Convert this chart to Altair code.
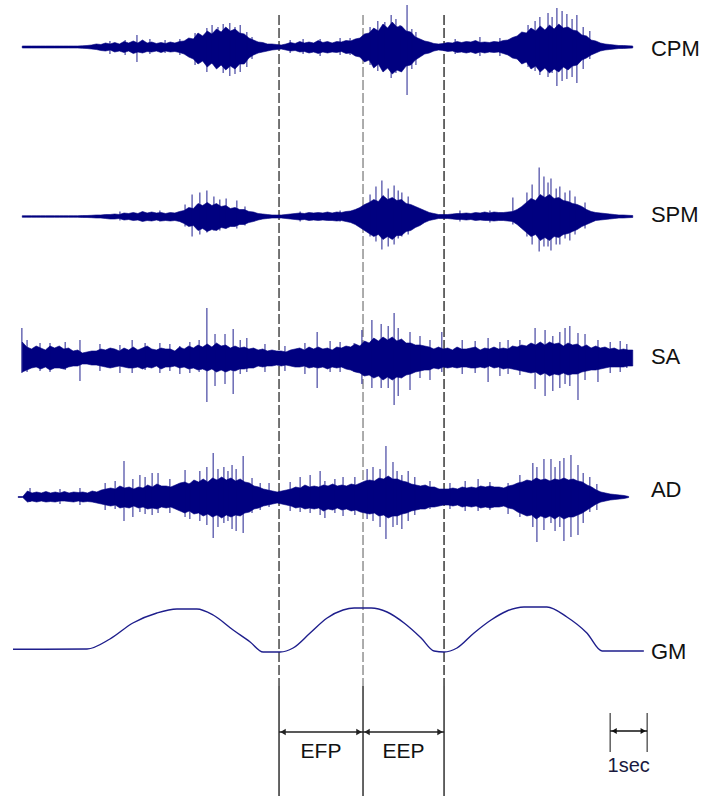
import altair as alt
import pandas as pd

NAVY = "#000080"
FONT = "Liberation Sans"

# ---------------- data ----------------
# dense-band envelope of each EMG trace (px above / below its baseline),
# sampled every 0.125 s; one row of values per second
STEP = 0.125
EMG_START = {"CPM": 0.25, "SPM": 0.25, "SA": 0.25, "AD": 0.14}
OFFSET = {"CPM": -47, "SPM": -216.5, "SA": -358, "AD": -497, "GM": -650}

CPM_UP = [1, 1, 1, 1, 1, 1, 1, 1,
          1, 1, 1, 1, 1, 1.2, 1.5, 2,
          3, 2.5, 4, 3, 4.5, 3, 5.5, 4,
          6, 4, 7, 4, 5, 3.5, 4.5, 3.5,
          5, 4, 5.5, 6, 9, 8, 14, 11,
          16, 13, 18, 15, 20, 16, 18, 14,
          13, 9, 7, 5, 4.5, 3, 3, 2.5,
          2, 3, 4.5, 3.5, 5.5, 4, 5, 4,
          6.5, 4.5, 5.5, 4, 5.5, 5, 6.5, 6,
          8, 9, 13, 14, 19, 16, 23, 19,
          25, 20, 21, 16, 15, 10, 8, 6,
          5, 3.5, 3, 3.5, 4.5, 4, 5.5, 4.5,
          5.5, 5, 6.5, 4.5, 5, 4.5, 5.5, 5,
          6.5, 7, 9.5, 11, 15, 14, 19, 16,
          21, 17, 22, 18, 23, 19, 20, 17,
          16, 12, 11, 7, 6, 4, 3, 2.5,
          2, 1.5, 1.5, 1.2, 1]
CPM_DN = [1, 1, 1, 1, 1, 1, 1, 1,
          1, 1, 1, 1, 1, 1.3, 1.5, 2,
          2.5, 3.5, 4, 3, 5, 4, 5.5, 4,
          6.5, 5, 6, 4.5, 5, 4, 5.5, 4,
          5, 4.5, 5.5, 7, 10, 12, 17, 14,
          20, 16, 22, 18, 23, 19, 22, 17,
          17, 11, 8, 6, 5, 4, 3, 2.5,
          2, 3, 4, 3.5, 5, 4.5, 6, 5,
          6.5, 5, 6, 5, 5.5, 4.5, 6.5, 6,
          9, 10, 15, 13, 21, 17, 25, 21,
          27, 23, 25, 19, 18, 13, 10, 7,
          6, 4, 3, 3.5, 4.5, 4, 5.5, 5,
          6, 5, 6.5, 5, 6, 5, 5.5, 5,
          6.5, 8, 11, 12, 17, 15, 22, 19,
          25, 21, 26, 22, 25, 20, 23, 19,
          18, 13, 11, 8, 6, 4, 3, 2.5,
          2, 1.5, 1.5, 1.2, 1]
SPM_UP = [0.8, 0.8, 0.8, 0.8, 0.8, 0.8, 0.8, 0.8,
          0.8, 0.8, 0.8, 0.8, 0.8, 1, 1, 1.2,
          1.5, 1.5, 2, 2, 2.5, 2, 3.5, 3,
          4, 3, 5, 3.5, 4.5, 3.5, 4, 3,
          4, 3.5, 5, 6, 9, 8, 13, 11,
          14, 11, 13, 10, 11, 8, 9, 7,
          7, 5, 4.5, 3, 2.5, 2, 1.5, 1.5,
          1.5, 2, 2.5, 3, 3.5, 3, 4, 3.5,
          4, 3.5, 4.5, 3.5, 4.5, 4, 5, 5.5,
          7, 9, 12, 14, 17, 15, 21, 17,
          19, 16, 17, 13, 12, 10, 8, 6,
          4, 3, 2, 2, 2, 2.5, 3, 3,
          3.5, 3, 4, 3.5, 4.5, 3.5, 4.5, 4,
          4, 4.5, 5, 7, 10, 14, 18, 16,
          22, 19, 22, 18, 19, 16, 15, 13,
          12, 10, 7, 5, 4, 3.5, 3, 2.5,
          2, 1.5, 1.5, 1.2, 1]
SPM_DN = [0.8, 0.8, 0.8, 0.8, 0.8, 0.8, 0.8, 0.8,
          0.8, 0.8, 0.8, 0.8, 0.8, 1, 1, 1.2,
          1.5, 1.5, 2, 2.5, 2.5, 2, 3.5, 3,
          4, 3.5, 5, 4, 4.5, 3.5, 4.5, 4,
          4.5, 4, 5, 7, 10, 9, 14, 12,
          15, 13, 14, 11, 12, 10, 10, 8,
          8, 6, 5, 3.5, 2.5, 2, 1.5, 1.5,
          1.5, 2, 2.5, 3, 3.5, 3, 4, 3.5,
          4, 3.5, 4, 4, 4.5, 4, 5, 6,
          8, 11, 14, 17, 20, 18, 23, 20,
          23, 19, 19, 15, 14, 11, 9, 6,
          4, 3, 2, 2, 2, 2.5, 3, 3,
          3.5, 3, 4, 3.5, 4, 4, 4.5, 4,
          4, 4.5, 5, 8, 12, 16, 20, 18,
          24, 21, 24, 20, 21, 18, 17, 15,
          13, 10, 8, 6, 4, 3.5, 3, 2.5,
          2, 1.5, 1.5, 1.2, 1]
SA_UP = [16, 11, 9, 12, 10, 8, 12, 10,
         12, 9, 10, 7, 8, 5, 6, 7,
         7, 9, 8, 10, 9, 7, 10, 8,
         11, 8, 10, 12, 9, 8, 10, 9,
         9, 7, 11, 9, 12, 10, 13, 11,
         14, 11, 15, 12, 13, 10, 12, 10,
         11, 9, 10, 8, 9, 7, 8, 7,
         7, 6, 8, 9, 10, 8, 11, 9,
         11, 9, 10, 8, 11, 10, 12, 11,
         14, 12, 17, 15, 20, 17, 21, 18,
         21, 17, 19, 15, 15, 13, 13, 12,
         11, 9, 11, 9, 10, 8, 11, 9,
         9, 10, 11, 8, 10, 9, 11, 9,
         10, 9, 12, 11, 13, 12, 15, 13,
         16, 13, 16, 14, 15, 12, 15, 13,
         14, 11, 13, 10, 12, 10, 11, 9,
         10, 8, 9, 8, 8]
SA_DN = [14, 12, 10, 9, 11, 9, 12, 10,
         10, 11, 9, 8, 8, 6, 6, 7,
         7, 8, 9, 10, 9, 8, 9, 10,
         10, 9, 11, 9, 10, 8, 11, 9,
         9, 8, 10, 9, 11, 10, 12, 11,
         13, 11, 14, 12, 14, 12, 13, 11,
         11, 10, 10, 8, 9, 8, 8, 7,
         8, 7, 8, 9, 9, 8, 10, 9,
         10, 9, 11, 9, 10, 9, 11, 12,
         14, 15, 18, 17, 20, 18, 22, 19,
         22, 19, 20, 17, 16, 14, 13, 12,
         12, 10, 11, 9, 10, 9, 10, 9,
         9, 10, 10, 9, 10, 8, 10, 9,
         11, 10, 11, 12, 13, 14, 15, 14,
         17, 15, 18, 16, 17, 15, 17, 16,
         16, 14, 13, 12, 12, 11, 10, 9,
         9, 9, 9, 8, 8]
AD_UP = [0.5, 0.5, 6, 4, 5, 4, 5.5, 4,
         5, 4, 5.5, 4, 5, 4.5, 5, 4,
         6, 5, 7, 8, 9, 8, 11, 9,
         10, 8, 10, 9, 12, 10, 13, 11,
         11, 10, 12, 14, 15, 13, 17, 15,
         18, 15, 19, 17, 20, 17, 19, 16,
         18, 15, 14, 11, 10, 8, 7, 6,
         5, 6, 7, 8, 10, 9, 12, 10,
         11, 10, 12, 11, 13, 11, 12, 11,
         13, 12, 14, 16, 17, 16, 19, 18,
         21, 18, 18, 16, 15, 13, 12, 11,
         12, 10, 10, 8, 8, 8, 9, 8,
         10, 9, 10, 9, 11, 10, 11, 10,
         10, 9, 11, 12, 14, 15, 17, 16,
         19, 17, 18, 16, 18, 17, 19, 17,
         18, 16, 15, 12, 10, 7, 5, 4,
         3, 2.5, 2, 1.5, 0.5]
AD_DN = [0.5, 0.5, 5, 4, 5, 4, 5, 4.5,
         5, 4, 4, 4.5, 5, 4, 5, 4.5,
         5, 6, 7, 8, 9, 8, 11, 10,
         11, 9, 11, 10, 12, 11, 12, 10,
         11, 10, 12, 14, 16, 14, 17, 16,
         19, 17, 20, 18, 21, 18, 20, 18,
         19, 16, 15, 12, 11, 9, 8, 7,
         6, 7, 8, 9, 11, 10, 12, 11,
         12, 11, 14, 12, 13, 11, 13, 12,
         14, 13, 15, 16, 17, 16, 19, 18,
         21, 19, 19, 17, 16, 14, 13, 12,
         12, 10, 10, 9, 8, 8, 9, 8,
         10, 9, 10, 9, 11, 10, 11, 10,
         10, 9, 11, 12, 15, 17, 19, 18,
         22, 19, 21, 19, 22, 19, 22, 20,
         20, 18, 16, 13, 10, 7, 5, 4,
         3, 2.5, 2, 1.5, 0.5]

# individual spikes sticking out of the dense band: time (s), up, down
CPM_SPK_T = [2.62, 3.03, 3.35, 3.70, 4.11, 4.51, 4.92, 5.24, 5.38, 5.54, 5.68, 5.86, 6.0,
             6.14, 6.32, 6.46, 7.49, 7.84, 8.30, 8.84, 9.11, 9.65, 9.86, 10.05, 10.22,
             10.35, 10.46, 10.65, 10.78, 10.89, 11.95, 12.62, 13.16, 13.92, 14.11, 14.24,
             14.46, 14.57, 14.70, 14.84, 14.97, 15.11, 15.24, 15.41, 15.59]
CPM_SPK_UP = [6, 7, 12, 8, 7, 8, 14, 19, 22, 20, 23, 24, 20, 22, 15, 10, 7, 8, 8, 9, 9,
              20, 26, 25, 32, 28, 22, 42, 18, 15, 8, 10, 9, 22, 26, 30, 34, 30, 39, 36,
              33, 28, 32, 20, 16]
CPM_SPK_DN = [7, 8, 15, 7, 6, 8, 18, 25, 17, 20, 26, 29, 27, 25, 20, 12, 6, 7, 9, 8, 8,
              18, 24, 22, 31, 26, 24, 48, 22, 18, 7, 9, 9, 20, 24, 28, 30, 26, 39, 34,
              32, 30, 36, 22, 12]
SPM_SPK_T = [2.89, 3.97, 4.65, 4.84, 5.05, 5.24, 5.43, 5.59, 5.76, 6.05, 6.27, 7.76, 8.84,
             9.65, 9.81, 9.97, 10.14, 10.30, 10.41, 10.51, 10.68, 12.08, 12.89, 13.51,
             13.89, 14.03, 14.22, 14.35, 14.46, 14.54, 14.68, 14.78, 14.92, 15.05, 15.19,
             15.46]
SPM_SPK_UP = [5, 6, 12, 22, 24, 26, 20, 17, 18, 16, 10, 5, 6, 22, 30, 36, 28, 31, 26, 24,
              20, 6, 6, 19, 24, 32, 49, 40, 34, 38, 28, 30, 24, 26, 20, 14]
SPM_SPK_DN = [4, 5, 10, 20, 18, 16, 14, 14, 12, 12, 9, 5, 5, 20, 25, 33, 30, 28, 22, 20,
              18, 5, 6, 8, 20, 28, 35, 30, 30, 34, 28, 28, 22, 24, 18, 12]
SA_SPK_T = [0.24, 0.38, 0.73, 1.0, 1.41, 1.81, 2.35, 2.89, 3.22, 3.57, 3.97, 4.24, 4.51,
            4.78, 5.03, 5.24, 5.46, 5.73, 5.95, 6.14, 6.32, 6.81, 7.35, 7.89, 8.22, 8.57,
            8.84, 9.22, 9.43, 9.70, 9.95, 10.14, 10.30, 10.41, 10.73, 11.0, 11.27, 11.59,
            12.14, 12.49, 12.84, 13.16, 13.38, 13.70, 14.11, 14.38, 14.59, 14.78, 14.92,
            15.05, 15.27, 15.46, 15.81, 16.14, 16.41, 16.59]
SA_SPK_UP = [30, 18, 15, 15, 16, 18, 14, 13, 18, 15, 15, 14, 12, 16, 18, 50, 24, 24, 29,
             18, 20, 14, 12, 15, 26, 17, 16, 15, 28, 38, 34, 32, 45, 30, 26, 22, 18, 26,
             18, 17, 20, 16, 18, 18, 30, 28, 22, 26, 30, 32, 25, 24, 18, 16, 17, 14]
SA_SPK_DN = [15, 14, 13, 14, 12, 23, 13, 15, 15, 12, 15, 13, 16, 15, 14, 44, 28, 26, 36,
             16, 14, 14, 13, 16, 30, 14, 14, 14, 26, 30, 30, 30, 47, 38, 32, 20, 22, 14,
             16, 15, 24, 18, 16, 17, 31, 38, 33, 30, 26, 28, 42, 22, 24, 15, 14, 10]
AD_SPK_T = [0.46, 1.27, 1.81, 2.49, 2.76, 3.0, 3.24, 3.43, 3.57, 3.76, 3.92, 4.24, 4.65,
            4.78, 5.05, 5.24, 5.41, 5.54, 5.70, 5.81, 5.92, 6.03, 6.22, 6.46, 6.68, 6.92,
            7.49, 7.76, 8.03, 8.30, 8.43, 8.70, 8.92, 9.24, 9.57, 9.73, 9.92, 10.08,
            10.27, 10.38, 10.51, 10.68, 10.86, 11.27, 11.81, 12.22, 12.57, 12.89, 13.38,
            13.70, 14.05, 14.16, 14.35, 14.54, 14.65, 14.78, 14.89, 15.08, 15.27, 15.41,
            15.59, 15.78]
AD_SPK_UP = [9, 8, 9, 14, 16, 36, 18, 22, 20, 24, 24, 18, 27, 14, 26, 30, 44, 28, 30, 26,
             32, 28, 41, 19, 14, 14, 15, 20, 22, 26, 16, 18, 20, 20, 28, 30, 28, 51, 35,
             26, 22, 26, 20, 16, 14, 16, 18, 15, 14, 22, 34, 30, 38, 38, 30, 36, 39, 42,
             32, 24, 20, 13]
AD_SPK_DN = [5, 7, 8, 13, 12, 24, 20, 15, 17, 18, 16, 16, 20, 22, 24, 28, 41, 30, 26, 24,
             32, 34, 36, 16, 13, 10, 14, 15, 16, 18, 21, 16, 19, 18, 22, 24, 30, 42, 30,
             28, 32, 24, 18, 12, 12, 14, 14, 13, 17, 20, 30, 45, 33, 26, 34, 30, 44, 40,
             38, 26, 15, 13]

# GM trace: time (s) and level above its baseline
GM_T = [0, 2.0, 2.62, 3.24, 3.89, 4.43, 4.97, 5.41, 5.95, 6.41, 6.76, 7.22, 7.57, 8.03,
        8.49, 8.92, 9.22, 9.68, 10.11, 10.57, 11.03, 11.38, 11.65, 12.0, 12.46, 12.92,
        13.35, 13.81, 14.43, 14.97, 15.51, 15.92, 17.05]
GM_V = [0.7, 1, 11, 27, 37, 41, 41, 35, 20, 8, -2, -2, 2, 17, 32, 40, 42, 42, 38, 27, 12,
        -1, -2, 2, 17, 30, 39, 43, 43, 33, 17, -1, -1]

LABELS = ["CPM", "SPM", "SA", "AD", "GM"]
EVENT_T = [7.19, 9.46, 11.65]          # phase boundaries (s)
PHASES = ["EFP", "EEP"]
SCALE_T0 = 16.14
SCALE_LEN = 1.0

# ---------------- build tables ----------------
env = {"CPM": (CPM_UP, CPM_DN), "SPM": (SPM_UP, SPM_DN), "SA": (SA_UP, SA_DN), "AD": (AD_UP, AD_DN)}
spk = {"CPM": (CPM_SPK_T, CPM_SPK_UP, CPM_SPK_DN), "SPM": (SPM_SPK_T, SPM_SPK_UP, SPM_SPK_DN),
       "SA": (SA_SPK_T, SA_SPK_UP, SA_SPK_DN), "AD": (AD_SPK_T, AD_SPK_UP, AD_SPK_DN)}
rows = []
for name, (up, dn) in env.items():
    for i, (u, d) in enumerate(zip(up, dn)):
        rows.append({"trace": name, "t": EMG_START[name] + i * STEP,
                     "hi": OFFSET[name] + u, "lo": OFFSET[name] - d})
env_df = pd.DataFrame(rows)
rows = []
for name, (ts, up, dn) in spk.items():
    for t, u, d in zip(ts, up, dn):
        rows.append({"trace": name, "t": t, "hi": OFFSET[name] + u, "lo": OFFSET[name] - d})
spk_df = pd.DataFrame(rows)
gm_df = pd.DataFrame({"t": GM_T, "v": [OFFSET["GM"] + v for v in GM_V]})

label_y = {"CPM": -56, "SPM": -222, "SA": -364, "AD": -497, "GM": -659}
lab_df = pd.DataFrame({"label": LABELS, "t": [17.24] * 5, "y": [label_y[l] for l in LABELS]})

ev_df = pd.DataFrame({"t": EVENT_T, "c": ["#3a3a3a", "#8a8a8a", "#2a2a2a"],
                      "top": [-15] * 3, "mid": [-686] * 3, "bot": [-796] * 3})
ph_df = pd.DataFrame({"phase": PHASES, "t0": EVENT_T[:2], "t1": EVENT_T[1:],
                      "tc": [(a + b) / 2 for a, b in zip(EVENT_T[:2], EVENT_T[1:])],
                      "ya": [-732] * 2, "yt": [-758] * 2})
sc_df = pd.DataFrame({"t0": [SCALE_T0], "t1": [SCALE_T0 + SCALE_LEN],
                      "tc": [SCALE_T0 + SCALE_LEN / 2], "ytop": [-713], "ybot": [-752],
                      "ya": [-731], "yt": [-772], "txt": ["1sec"]})

X = alt.Scale(domain=[-13 / 37, 695 / 37], nice=False, zero=False)
Y = alt.Scale(domain=[-796, 0], nice=False, zero=False)
x = lambda f: alt.X(f, scale=X, axis=None)
y = lambda f: alt.Y(f, scale=Y, axis=None)

layers = []
# event lines (dashed through traces, solid below)
layers.append(alt.Chart(ev_df).mark_rule(strokeWidth=1.4, strokeDash=[10, 3]).encode(
    x=x("t:Q"), y=y("top:Q"), y2="mid:Q", color=alt.Color("c:N", scale=None)))
layers.append(alt.Chart(ev_df).mark_rule(strokeWidth=1.4, color="#222222").encode(
    x=x("t:Q"), y=y("mid:Q"), y2="bot:Q"))
# EMG traces
layers.append(alt.Chart(env_df).mark_area(color=NAVY, stroke=NAVY, strokeWidth=0.6,
                                          strokeJoin="miter").encode(
    x=x("t:Q"), y=y("hi:Q"), y2="lo:Q", detail="trace:N"))
layers.append(alt.Chart(spk_df).mark_rule(color=NAVY, strokeWidth=1.1, opacity=0.8).encode(
    x=x("t:Q"), y=y("hi:Q"), y2="lo:Q"))
# GM
layers.append(alt.Chart(gm_df).mark_line(color="#1e1e8c", strokeWidth=1.4, interpolate="monotone").encode(
    x=x("t:Q"), y=y("v:Q")))
# labels
layers.append(alt.Chart(lab_df).mark_text(align="left", baseline="alphabetic", font=FONT,
                                          fontSize=22, color="#111111").encode(
    x=x("t:Q"), y=y("y:Q"), text="label:N"))
# phase arrows
layers.append(alt.Chart(ph_df).mark_rule(strokeWidth=1.3, color="#222222").encode(
    x=x("t0:Q"), x2="t1:Q", y=y("ya:Q")))
layers.append(alt.Chart(ph_df).mark_point(shape="triangle-left", filled=True, size=40,
                                          color="#222222", opacity=1, xOffset=4).encode(
    x=x("t0:Q"), y=y("ya:Q")))
layers.append(alt.Chart(ph_df).mark_point(shape="triangle-right", filled=True, size=40,
                                          color="#222222", opacity=1, xOffset=-4).encode(
    x=x("t1:Q"), y=y("ya:Q")))
layers.append(alt.Chart(ph_df).mark_text(align="center", baseline="alphabetic", font=FONT,
                                         fontSize=21, color="#111111").encode(
    x=x("tc:Q"), y=y("yt:Q"), text="phase:N"))
# 1 sec scale bar
layers.append(alt.Chart(sc_df).mark_rule(strokeWidth=1.4, color="#555555").encode(
    x=x("t0:Q"), y=y("ytop:Q"), y2="ybot:Q"))
layers.append(alt.Chart(sc_df).mark_rule(strokeWidth=1.4, color="#555555").encode(
    x=x("t1:Q"), y=y("ytop:Q"), y2="ybot:Q"))
layers.append(alt.Chart(sc_df).mark_rule(strokeWidth=1.3, color="#111111").encode(
    x=x("t0:Q"), x2="t1:Q", y=y("ya:Q")))
layers.append(alt.Chart(sc_df).mark_point(shape="triangle-left", filled=True, size=36,
                                          color="#111111", opacity=1, xOffset=4).encode(
    x=x("t0:Q"), y=y("ya:Q")))
layers.append(alt.Chart(sc_df).mark_point(shape="triangle-right", filled=True, size=36,
                                          color="#111111", opacity=1, xOffset=-4).encode(
    x=x("t1:Q"), y=y("ya:Q")))
layers.append(alt.Chart(sc_df).mark_text(align="center", baseline="alphabetic", font=FONT,
                                         fontSize=20, color="#1a1a40").encode(
    x=x("tc:Q"), y=y("yt:Q"), text="txt:N"))

chart = alt.layer(*layers).properties(
    width=708, height=796, padding=0, autosize=alt.AutoSizeParams(type="none"),
    background="white"
).configure_view(stroke=None)

chart.save("out.html", embed_options={"renderer": "svg", "actions": False})
